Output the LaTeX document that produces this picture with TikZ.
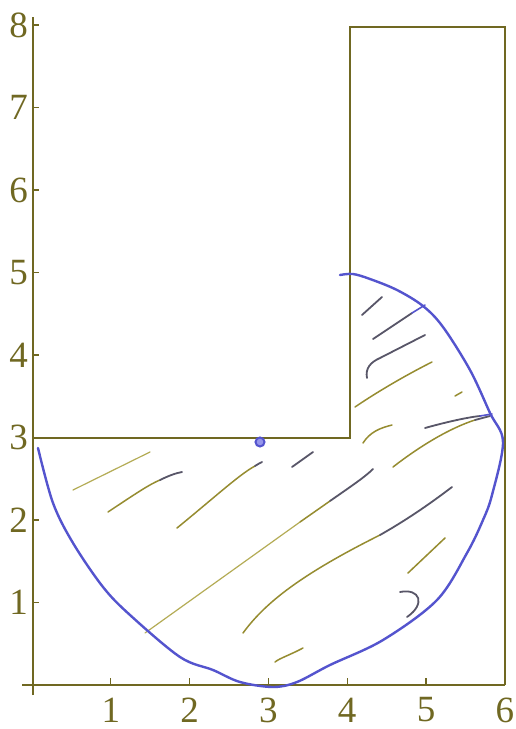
\documentclass[tikz,border=0pt]{standalone}
\usepackage{fontspec}
\setmainfont{Liberation Serif}
\definecolor{axiscol}{RGB}{112,104,34}
\definecolor{hatcho}{RGB}{150,140,48}
\definecolor{hatchl}{RGB}{180,172,85}
\definecolor{hatchd}{RGB}{88,86,104}
\definecolor{penblue}{RGB}{84,84,206}
\definecolor{dotfill}{RGB}{150,150,235}
\tikzset{
  axisline/.style={draw=axiscol, line width=1.4pt},
  tickmark/.style={draw=axiscol, line width=1.2pt},
  lab/.style={text=axiscol, inner sep=0pt, font=\fontsize{37}{37}\selectfont},
  shapeline/.style={draw=axiscol, line width=1.6pt, line join=miter},
  curveline/.style={draw=penblue, line width=2.4pt, line cap=round, line join=round},
  hatchO/.style={draw=hatcho, line width=1.5pt, line cap=round},
  hatchL/.style={draw=hatchl, line width=1.2pt, line cap=round},
  hatchD/.style={draw=hatchd, line width=1.8pt, line cap=round},
  hatchB/.style={draw=penblue, line width=1.6pt, line cap=round},
}
\begin{document}
\begin{tikzpicture}[x=1pt,y=-1pt]
\useasboundingbox (0,0) rectangle (515,729);
\fill[white] (0,0) rectangle (515,729);

% axes
\coordinate (xa0) at (22,685);
\coordinate (xa1) at (505,685);
\coordinate (ya0) at (33,695);
\coordinate (ya1) at (33,17);
\draw[axisline] (xa0) -- (xa1);
\draw[axisline] (ya0) -- (ya1);

% x ticks and labels
\foreach \k/\px in {1/110.8,2/189.6,3/268.4,4/347.2,5/426,6/504.8}{
  \draw[tickmark] (\px,685) -- (\px,678);
  \node[lab] (xl\k) at (\px,710) {\k};
}
% y ticks and labels
\foreach \k/\py in {1/602.5,2/520,3/437.7,4/355,5/272.5,6/190,7/107.5,8/25}{
  \draw[tickmark] (33,\py) -- (39,\py);
  \node[lab] (yl\k) at (18.5,\py) {\k};
}

% region outline
\coordinate (r1) at (33,438);
\coordinate (r2) at (350,438);
\coordinate (r3) at (350,27);
\coordinate (r4) at (505,27);
\coordinate (r5) at (505,685);
\draw[shapeline] (r1) -- (r2) -- (r3) -- (r4) -- (r5);

% hatch strokes
\draw[hatchL] (73,490) -- (150,452);
\draw[hatchO] (108,512) .. controls (135,494) and (150,484) .. (160,480);
\draw[hatchD] (160,480) .. controls (168,476) and (176,473) .. (182,472);
\draw[hatchO] (177,528) .. controls (215,497) and (240,474) .. (255,466);
\draw[hatchD] (255,466) .. controls (258,464) and (260,463) .. (262,462);
\draw[hatchD] (292,467) -- (313,452);
\draw[hatchL] (145,633) -- (300,522);
\draw[hatchO] (300,522) -- (330,501);
\draw[hatchD] (330,501) .. controls (350,487) and (365,477) .. (373,469);
\draw[hatchO] (243,633) .. controls (265,603) and (300,575) .. (380,535);
\draw[hatchD] (380,535) .. controls (410,518) and (435,500) .. (452,487);
\draw[hatchO] (275,662) .. controls (280,658) and (290,655) .. (303,648);
\draw[hatchO] (408,573) -- (445,538);
\draw[hatchD] (400,592) .. controls (420,588) and (426,604) .. (407,617);
\draw[hatchO] (363,443) .. controls (370,432) and (380,428) .. (392,425);
\draw[hatchO] (393,467) .. controls (420,446) and (450,428) .. (475,420);
\draw[hatchD] (475,420) -- (490,416);
\draw[hatchD] (425,428) .. controls (450,421) and (470,417) .. (480,416);
\draw[hatchB] (480,416) -- (492,414);
\draw[hatchO] (455,396) -- (462,392);
\draw[hatchO] (355,407) .. controls (380,390) and (410,373) .. (432,362);
\draw[hatchD] (367,378) .. controls (365,368) and (371,362) .. (380,358) -- (425,335);
\draw[hatchD] (373,339) -- (412,313);
\draw[hatchB] (412,313) -- (425,305);
\draw[hatchD] (362,315) -- (382,297);

% blue boundary curve
\draw[curveline] plot[smooth, tension=0.55] coordinates {
  (340,275) (353,274) (370,279) (397,290) (423,306) (443,327) (470,370)
  (490,413) (503,442) (492,495) (483,520) (467,553) (437,600) (383,640)
  (330,665) (297,682) (273,687) (240,682) (213,670) (180,657) (130,615)
  (103,587) (73,543) (53,503) (38,448)};

% point
\node[circle, draw=penblue, fill=dotfill, line width=2pt, minimum size=9pt, inner sep=0pt] (pt) at (260,442) {};
\end{tikzpicture}
\end{document}
